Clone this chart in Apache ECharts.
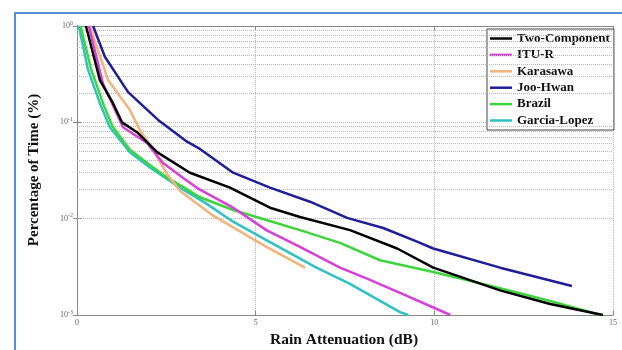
<!DOCTYPE html>
<html>
<head>
<meta charset="utf-8">
<script src="https://cdn.jsdelivr.net/npm/echarts@6/dist/echarts.min.js"></script>
<style>html,body{margin:0;padding:0;background:#fff}#c{width:622px;height:350px}</style>
</head>
<body>
<div id="c"></div>
<script>
// ---- data ----
const seriesNames = ['Two-Component','ITU-R','Karasawa','Joo-Hwan','Brazil','Garcia-Lopez'];
const twoCompX = [0.25,0.64,1.0,1.26,1.68,2.24,3.16,4.28,5.4,6.24,7.64,8.96,9.97,11.84,13.24,14.72];
const twoCompY = [1,0.275,0.16,0.1,0.079,0.049,0.030,0.021,0.013,0.0104,0.0076,0.0049,0.0031,0.0018,0.0013,0.001];
const ituX = [0.33,0.73,1.29,1.96,2.4,3.0,3.44,4.37,5.3,6.24,7.36,8.1,9.04,10.45];
const ituY = [1,0.25,0.089,0.061,0.038,0.026,0.020,0.013,0.0076,0.0051,0.0031,0.0024,0.0017,0.001];
const karX = [0.36,0.87,1.48,1.76,2.13,2.52,2.88,3.8,5.3,6.38];
const karY = [1,0.275,0.134,0.083,0.052,0.029,0.0195,0.0108,0.0051,0.0031];
const jooX = [0.45,0.78,1.43,2.27,3.08,3.44,4.37,5.4,6.52,7.56,8.57,9.55,9.97,11.84,13.85];
const jooY = [1,0.48,0.206,0.106,0.063,0.053,0.030,0.021,0.015,0.0102,0.0080,0.0057,0.0049,0.0031,0.0020];
const brazilX = [0.1,0.4,0.75,1.0,1.48,2.0,2.5,3.0,3.44,4.37,5.3,6.24,7.36,8.48,9.97,11.84,13.24,14.64];
const brazilY = [1,0.35,0.15,0.09,0.052,0.037,0.027,0.021,0.0167,0.0123,0.0097,0.0076,0.0056,0.0037,0.0028,0.0019,0.0014,0.001];
const garciaX = [0.05,0.31,0.64,0.92,1.48,2.04,2.88,3.6,4.37,5.3,6.7,7.64,9.04,9.27];
const garciaY = [1,0.35,0.158,0.089,0.049,0.034,0.021,0.0145,0.0093,0.0060,0.0031,0.0021,0.00107,0.001];
const xTicks = [0,5,10,15];
const yTickExponents = [0,-1,-2,-3];
const colors = ['#000000','#d83ed8','#f0b47c','#1e1e98','#3ed43e','#2ec2c2'];

const xs = [twoCompX,ituX,karX,jooX,brazilX,garciaX];
const ys = [twoCompY,ituY,karY,jooY,brazilY,garciaY];

const minorVals = [];
[0.001,0.01,0.1].forEach(d => { for (let k = 2; k <= 9; k++) minorVals.push(+(d*k).toPrecision(3)); });

const series = seriesNames.map((n,i) => ({
  name: n, type: 'line', symbol: 'none', smooth: false,
  data: xs[i].map((x,j) => [x, ys[i][j]]),
  lineStyle: {color: colors[i], width: 2.5},
  itemStyle: {color: colors[i]},
  z: 10 - i
}));
series.push({
  type: 'line', data: [], silent: true, xAxisIndex: 0, yAxisIndex: 0,
  markLine: {
    silent: true, symbol: 'none', label: {show: false},
    lineStyle: {color: '#b8b8b8', type: 'dotted', width: 1},
    data: minorVals.map(v => ({yAxis: v}))
  }
});

const chart = echarts.init(document.getElementById('c'));
chart.setOption({
  backgroundColor: '#fff',
  animation: false,
  grid: {left: 77, top: 26, right: 9, bottom: 35},
  legend: {
    data: seriesNames, orient: 'vertical', left: 487, top: 29,
    icon: 'rect', itemWidth: 22, itemHeight: 2.5, itemGap: 3.4,
    backgroundColor: '#fff', borderColor: '#444', borderWidth: 1,
    padding: [3, 4, 3, 3],
    textStyle: {fontFamily: 'Liberation Serif', fontWeight: 'bold', fontSize: 13, color: '#111', lineHeight: 13}
  },
  xAxis: [{
    type: 'value', min: 0, max: 15, interval: 5,
    axisLine: {lineStyle: {color: '#888', width: 1}},
    axisTick: {inside: true, length: 4, lineStyle: {color: '#888'}},
    axisLabel: {color: '#666', fontSize: 8, margin: 4, fontFamily: 'Liberation Sans Narrow',
      formatter: v => xTicks.includes(v) ? String(v) : ''},
    splitLine: {show: true, lineStyle: {color: '#b8b8b8', type: 'dotted'}}
  }, {
    type: 'value', min: 0, max: 15, interval: 5, position: 'top',
    axisLine: {show: true, lineStyle: {color: '#888'}},
    axisTick: {inside: true, length: 4, lineStyle: {color: '#888'}},
    axisLabel: {show: false}, splitLine: {show: false}
  }],
  yAxis: [{
    type: 'log', logBase: 10, min: 0.001, max: 1,
    axisLine: {show: true, lineStyle: {color: '#888', width: 1}},
    axisTick: {inside: true, length: 4, lineStyle: {color: '#888'}},
    axisLabel: {
      margin: 4, color: '#666',
      formatter: v => {
        const e = Math.round(Math.log10(v));
        return yTickExponents.includes(e) ? '{b|10}{s|' + e + '}' : '';
      },
      rich: {
        b: {fontSize: 8, color: '#666', fontFamily: 'Liberation Sans Narrow'},
        s: {fontSize: 6, color: '#666', fontFamily: 'Liberation Sans Narrow', padding: [0,0,6,0]}
      }
    },
    splitLine: {show: true, lineStyle: {color: '#b8b8b8', type: 'dotted'}}
  }, {
    type: 'log', logBase: 10, min: 0.001, max: 1, position: 'right',
    axisLine: {show: true, lineStyle: {color: '#888'}},
    axisTick: {inside: true, length: 4, lineStyle: {color: '#888'}},
    axisLabel: {show: false}, splitLine: {show: false}
  }],
  series: series,
  graphic: [
    {type: 'rect', shape: {x: 15, y: 13, width: 700, height: 400}, silent: true, z: -1,
      style: {fill: null, stroke: '#5a8fd4', lineWidth: 2}},
    {type: 'text', x: 344, y: 340, silent: true,
      style: {text: 'Rain Attenuation (dB)', fontFamily: 'Liberation Serif', fontWeight: 'bold', fontSize: 15.5, fill: '#111', align: 'center', verticalAlign: 'middle'}},
    {type: 'text', x: 34, y: 170, rotation: Math.PI/2, silent: true,
      style: {text: 'Percentage of Time (%)', fontFamily: 'Liberation Serif', fontWeight: 'bold', fontSize: 15, fill: '#111', align: 'center', verticalAlign: 'middle'}}
  ]
});
</script>
</body>
</html>
